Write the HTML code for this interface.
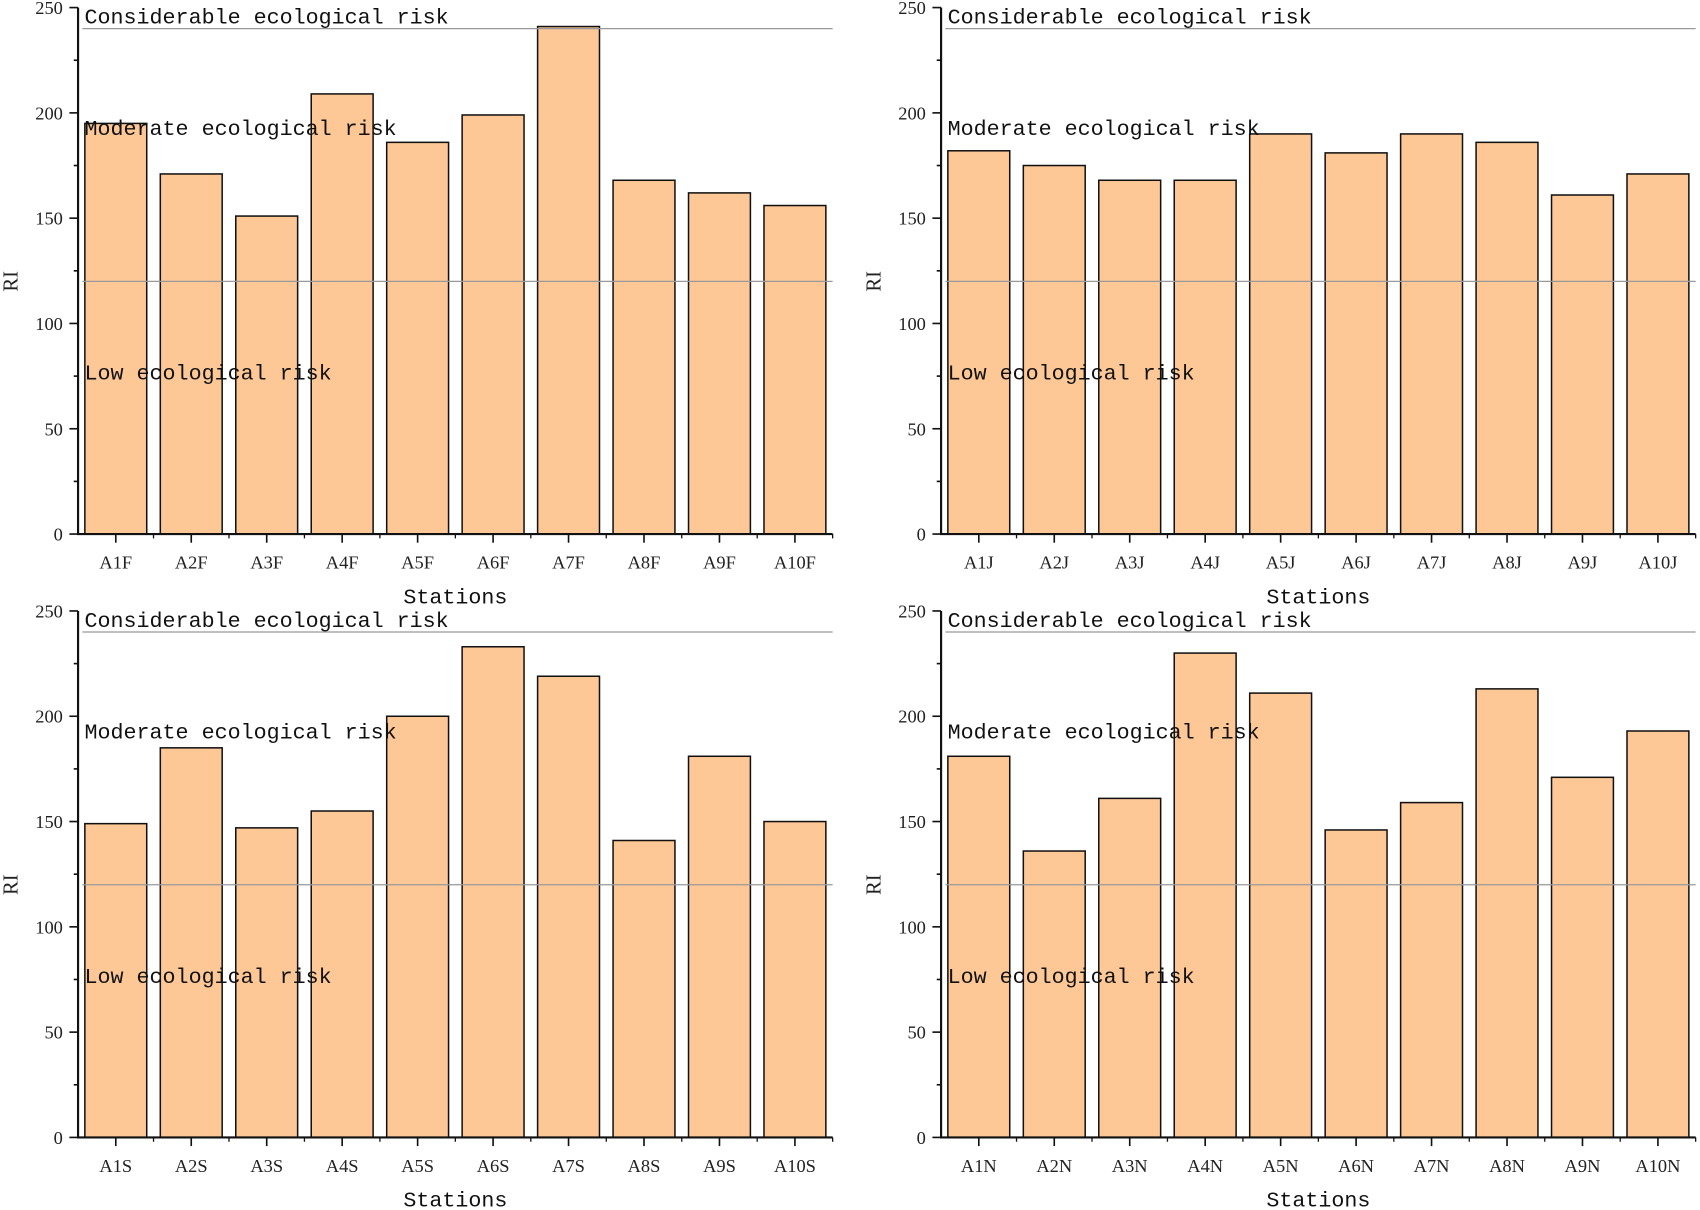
<!DOCTYPE html>
<html><head><meta charset="utf-8"><style>
html,body{margin:0;padding:0;background:#fff;}
svg{display:block;}
.tk{font-family:"Liberation Serif",serif;font-size:17px;fill:#222;}
.an{font-family:"Liberation Mono",monospace;font-size:20px;fill:#111;}
</style></head><body>
<svg id="chart" width="1700" height="1210" viewBox="0 0 1568 1117" preserveAspectRatio="none" xmlns="http://www.w3.org/2000/svg"></svg>
<script>
const catsF=["A1F","A2F","A3F","A4F","A5F","A6F","A7F","A8F","A9F","A10F"];
const valsF=[195,171,151,209,186,199,241,168,162,156];
const catsJ=["A1J","A2J","A3J","A4J","A5J","A6J","A7J","A8J","A9J","A10J"];
const valsJ=[182,175,168,168,190,181,190,186,161,171];
const catsS=["A1S","A2S","A3S","A4S","A5S","A6S","A7S","A8S","A9S","A10S"];
const valsS=[149,185,147,155,200,233,219,141,181,150];
const catsN=["A1N","A2N","A3N","A4N","A5N","A6N","A7N","A8N","A9N","A10N"];
const valsN=[181,136,161,230,211,146,159,213,171,193];
const yTicks=[0,50,100,150,200,250];
const thresholds=[120,240];
const riskLabels=["Considerable ecological risk","Moderate ecological risk","Low ecological risk"];
const riskLabelValues=[246,193,77];

const NS="http://www.w3.org/2000/svg";
const svg=document.getElementById('chart');
function mk(tag,attrs,parent){const e=document.createElementNS(NS,tag);for(const k in attrs)e.setAttribute(k,attrs[k]);(parent||svg).appendChild(e);return e;}

function panel(name,ox,oy,cats,vals){
  const g=mk('g',{});
  
  
  const x0=ox, x1=ox+696, y0=oy+486, yTop=oy;
  const y=v=>y0-(v/250)*(y0-yTop);
  const band=(x1-x0)/cats.length;
  const xc=i=>x0+band*(i+0.5);
  vals.forEach((v,i)=>{
    const r=mk('rect',{x:xc(i)-band*0.41,y:y(v),width:band*0.82,height:y0-y(v),fill:'#fdc896',stroke:'#111','stroke-width':1.4},g);
    
    
  });
  thresholds.forEach(t=>{
    const l=mk('line',{x1:x0+4,x2:x1,y1:y(t),y2:y(t),stroke:'#999','stroke-width':1.2},g);
    
    
  });
  const ax=mk('path',{d:`M${x0},${yTop} V${y0} H${x1}`,fill:'none',stroke:'#111','stroke-width':2},g);
  
  
  for(let v=0;v<=250;v+=25){
    mk('line',{x1:x0-(v%50===0?8:4),x2:x0,y1:y(v),y2:y(v),stroke:'#111','stroke-width':1.5},g);
  }
  yTicks.forEach(v=>{
    const t=mk('text',{x:x0-14,y:y(v)+6,'text-anchor':'end',class:'tk'},g);
    t.textContent=v;
    
    
  });
  cats.forEach((c,i)=>{
    mk('line',{x1:xc(i),x2:xc(i),y1:y0,y2:y0+8,stroke:'#111','stroke-width':1.5},g);
    mk('line',{x1:x0+band*(i+1),x2:x0+band*(i+1),y1:y0,y2:y0+4,stroke:'#111','stroke-width':1.2},g);
    const t=mk('text',{x:xc(i),y:y0+32,'text-anchor':'middle',class:'tk'},g);
    t.textContent=c;
    
    
  });
  riskLabels.forEach((s,i)=>{
    const t=mk('text',{x:x0+6,y:y(riskLabelValues[i])+7,class:'an'},g);
    t.textContent=s;
    
    
  });
  const xt=mk('text',{x:(x0+x1)/2,y:y0+64,'text-anchor':'middle',class:'an'},g);
  xt.textContent='Stations';
  
  
  const yt=mk('text',{x:0,y:0,'text-anchor':'middle',class:'tk',transform:`translate(${x0-56},${y(120)}) rotate(-90)`,style:'font-size:19px'},g);
  yt.textContent='RI';
  
  
}
panel('panel-f',72,7,catsF,valsF);
panel('panel-j',868,7,catsJ,valsJ);
panel('panel-s',72,564,catsS,valsS);
panel('panel-n',868,564,catsN,valsN);
</script>
</body></html>
